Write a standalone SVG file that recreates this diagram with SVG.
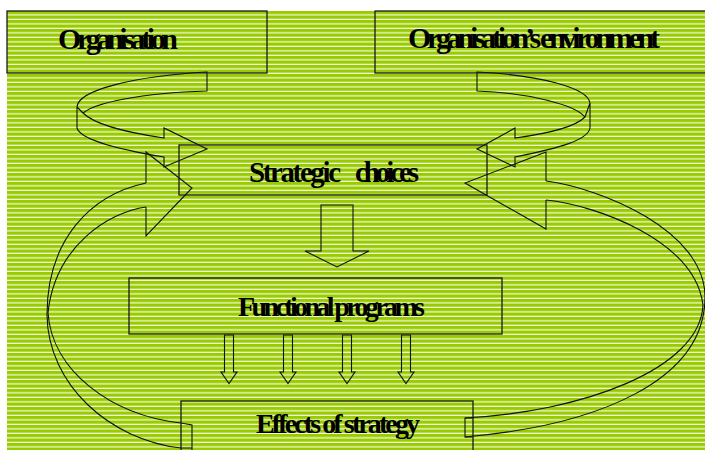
<svg xmlns="http://www.w3.org/2000/svg" width="705" height="450" viewBox="0 0 705 450">
<defs>
<pattern id="stripes" x="0" y="11" width="10" height="4.5" patternUnits="userSpaceOnUse">
<rect x="0" y="0" width="10" height="4.5" fill="#99cc00"/>
<rect x="0" y="3.3" width="10" height="1.1" fill="#ffffff"/>
</pattern>
<style>
.box{fill:none;stroke:#1a1a1a;stroke-width:1.3}
.lbl{font-family:"Liberation Serif","Times New Roman",serif;font-weight:bold;font-size:29px;fill:#000}
.big{font-size:30px}
.sm{font-size:28px}
.ln{fill:none;stroke:#111;stroke-width:1.1;stroke-linejoin:miter}
.arr{fill:none;stroke:#111;stroke-width:1.1}
</style>
</defs>
<rect x="0" y="0" width="705" height="450" fill="#ffffff"/>
<rect x="7" y="11" width="698" height="439" fill="url(#stripes)"/>

<g id="connectors">
<path class="ln" d="M207,72 C135,76 78,90 77,107 L77,128 C80,138 110,148 164,157 L164,167 L207,149 L164,128 L164,138 C130,133 95,125 83,113 C95,103 140,93 207,91 Z M77,107 L83,113"/>
<path class="ln" d="M477,72 C540,75 588,88 590,103 L590,128 C588,140 560,148 515,157 L515,167 L477,149 L515,128 L515,138 C545,134 575,127 585,117 C575,105 530,93 477,91 Z M590,103 L585,117"/>
<path class="ln" d="M146,183 L146,152 L192,188 L146,236 L146,207"/>
<path class="ln" d="M146,183 C90,195 47,240 47,315 C48,385 110,440 181,448"/>
<path class="ln" d="M146,207 C110,212 55,245 48,313 C52,370 110,415 181,423"/>
<path class="ln" d="M181,423 L192,425 L192,450 M181,448 L192,448"/>
<path class="ln" d="M546,181 L546,152 L465,183 L546,229 L546,200"/>
<path class="ln" d="M546,181 C600,188 705,230 705,297 C705,380 600,425 465,437"/>
<path class="ln" d="M546,200 C595,205 695,240 703,305 C700,370 580,412 465,418"/>
<path class="ln" d="M473,418 L465,418 L465,437 L473,437"/>
<polygon class="arr" points="321,205 353,205 353,251 369,251 337,267 305,251 321,251"/>
<polygon class="arr" points="224.5,335 233.5,335 233.5,372 237,372 229,383.5 221,372 224.5,372"/>
<polygon class="arr" points="283.5,335 292.5,335 292.5,372 296,372 288,383.5 280,372 283.5,372"/>
<polygon class="arr" points="342.5,335 351.5,335 351.5,372 355,372 347,383.5 339,372 342.5,372"/>
<polygon class="arr" points="401.5,335 410.5,335 410.5,372 414,372 406,383.5 398,372 401.5,372"/>
</g>

<g id="organisation">
<rect class="box" x="7" y="11" width="260" height="62"/>
<text class="lbl big" x="58" y="49" textLength="120" lengthAdjust="spacing">Organisation</text>
</g>
<g id="environment">
<rect class="box" x="375" y="11" width="340" height="62"/>
<text class="lbl big" x="408" y="48" textLength="252" lengthAdjust="spacing">Organisation’s environment</text>
</g>
<g id="strategic-choices">
<rect class="box" x="179" y="145" width="308" height="50"/>
<text class="lbl" y="182"><tspan x="249" textLength="92" lengthAdjust="spacing">Strategic</tspan><tspan x="355" textLength="64" lengthAdjust="spacing">choices</tspan></text>
</g>
<g id="functional-programs">
<rect class="box" x="129" y="278" width="373" height="56"/>
<text class="lbl sm" x="238" y="316" textLength="187" lengthAdjust="spacing">Functional programs</text>
</g>
<g id="effects-of-strategy">
<rect class="box" x="181" y="401" width="292" height="60"/>
<text class="lbl sm" x="256" y="433" textLength="164" lengthAdjust="spacing">Effects of strategy</text>
</g>
</svg>
